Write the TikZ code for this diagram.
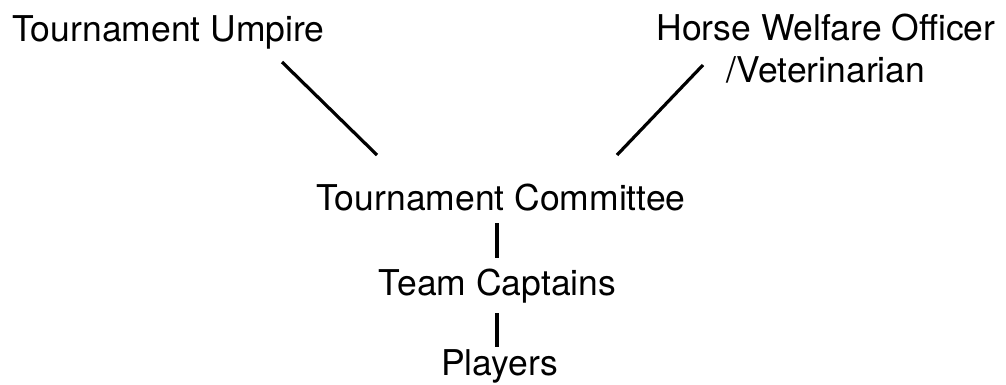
\documentclass[tikz,border=0pt]{standalone}
\usepackage{fontspec}
\setmainfont{TeX Gyre Heros}
\begin{document}
\begin{tikzpicture}[x=1pt,y=1pt,
  lbl/.style={inner sep=0pt,anchor=base,font=\fontsize{35.5}{42}\selectfont},
  link/.style={line width=3.2pt}]
\path[use as bounding box] (0,0) rectangle (1006,-384);
\node[lbl] (um) at (168.5,-41) {Tournament Umpire};
\node[lbl,align=center] (hw) at (826,-82) {Horse Welfare Officer\\/Veterinarian};
\node[lbl] (tc) at (501,-210) {Tournament Committee};
\node[lbl] (cap) at (497.5,-295) {Team Captains};
\node[lbl] (pl) at (499.5,-375) {Players};
\coordinate (umE) at (282,-62);
\coordinate (tcW) at (377,-155);
\coordinate (hwE) at (703,-65);
\coordinate (tcE) at (617,-155);
\coordinate (tcS) at (497,-223);
\coordinate (capN) at (497,-258);
\coordinate (capS) at (497,-313);
\coordinate (plN) at (497,-347);
\draw[link] (umE) -- (tcW);
\draw[link] (hwE) -- (tcE);
\draw[link] (tcS) -- (capN);
\draw[link] (capS) -- (plN);
\end{tikzpicture}
\end{document}
